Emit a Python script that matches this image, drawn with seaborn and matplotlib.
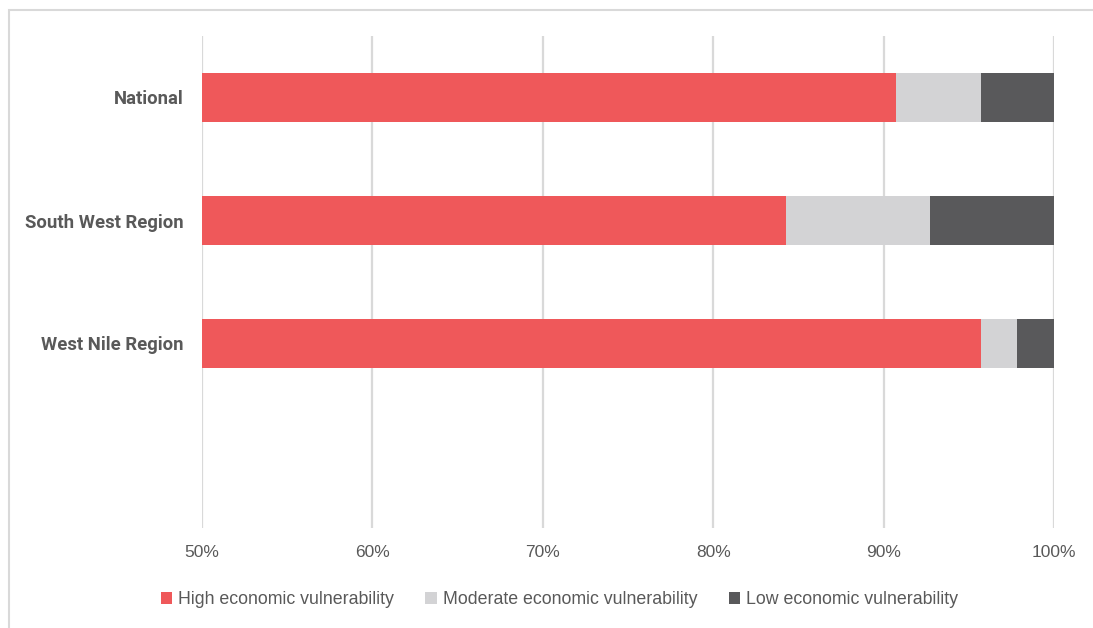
import matplotlib
matplotlib.use("Agg")
import matplotlib.pyplot as plt
from matplotlib.patches import Rectangle, Patch
from matplotlib.ticker import FuncFormatter
import seaborn as sns
import pandas as pd

# Share of households by economic vulnerability level (%)
regions = ["National", "South West Region", "West Nile Region"]
high = [90.7, 84.3, 95.7]
moderate = [5.0, 8.4, 2.1]
low = [4.3, 7.3, 2.2]
x_ticks = [50, 60, 70, 80, 90, 100]
series_names = ["High economic vulnerability",
                "Moderate economic vulnerability",
                "Low economic vulnerability"]
colors = ["#EF585A", "#D3D3D5", "#59595B"]

sns.set_theme(style="white")
plt.rcParams["font.family"] = ["Liberation Sans", "DejaVu Sans"]

df = pd.DataFrame({"region": regions, "high": high,
                   "moderate": moderate, "low": low})
df["cum_high"] = df["high"]
df["cum_mod"] = df["high"] + df["moderate"]
df["cum_low"] = df["cum_mod"] + df["low"]

fig = plt.figure(figsize=(10.93, 6.28), dpi=100)
ax = fig.add_axes([202 / 1093, 1 - 528 / 628, 852 / 1093, 492 / 628])

# Stacked horizontal bars: draw cumulative totals back to front
for col, color in zip(["cum_low", "cum_mod", "cum_high"], colors[::-1]):
    sns.barplot(data=df, y="region", x=col, order=regions, orient="h",
                color=color, width=0.4, ax=ax, linewidth=0, saturation=1)

ax.set_xlim(50, 100)
ax.set_ylim(3.5, -0.5)
ax.set_xticks(x_ticks)
ax.xaxis.set_major_formatter(FuncFormatter(lambda v, p: f"{v:.0f}%"))
ax.set_xlabel("")
ax.set_ylabel("")
ax.grid(axis="x", color="#D9D9D9", linewidth=1.6)
ax.set_axisbelow(True)
for s in ax.spines.values():
    s.set_visible(False)

ax.tick_params(axis="x", length=0, pad=12, labelsize=12.5, labelcolor="#595959")
ax.tick_params(axis="y", length=0, pad=13)
for lbl in ax.get_yticklabels():
    lbl.set_fontfamily("Roboto")
    lbl.set_fontweight("bold")
    lbl.set_fontsize(13.3)
    lbl.set_color("#595959")

handles = [Patch(facecolor=c, edgecolor="none") for c in colors]
fig.legend(handles, series_names, loc="center", ncol=3,
           bbox_to_anchor=(559.5 / 1093, 1 - 600 / 628), frameon=False,
           fontsize=12.8, labelcolor="#595959", handlelength=0.65,
           handleheight=0.65, handletextpad=0.35, columnspacing=1.75)

# Outer chart frame (left and top edges visible)
fig.patches.append(Rectangle((9 / 1093, -0.05), 1.2, 1 - 10 / 628 + 0.05,
                             transform=fig.transFigure, fill=False,
                             edgecolor="#D9D9D9", linewidth=1.5))

fig.savefig("out.png", dpi=100)
